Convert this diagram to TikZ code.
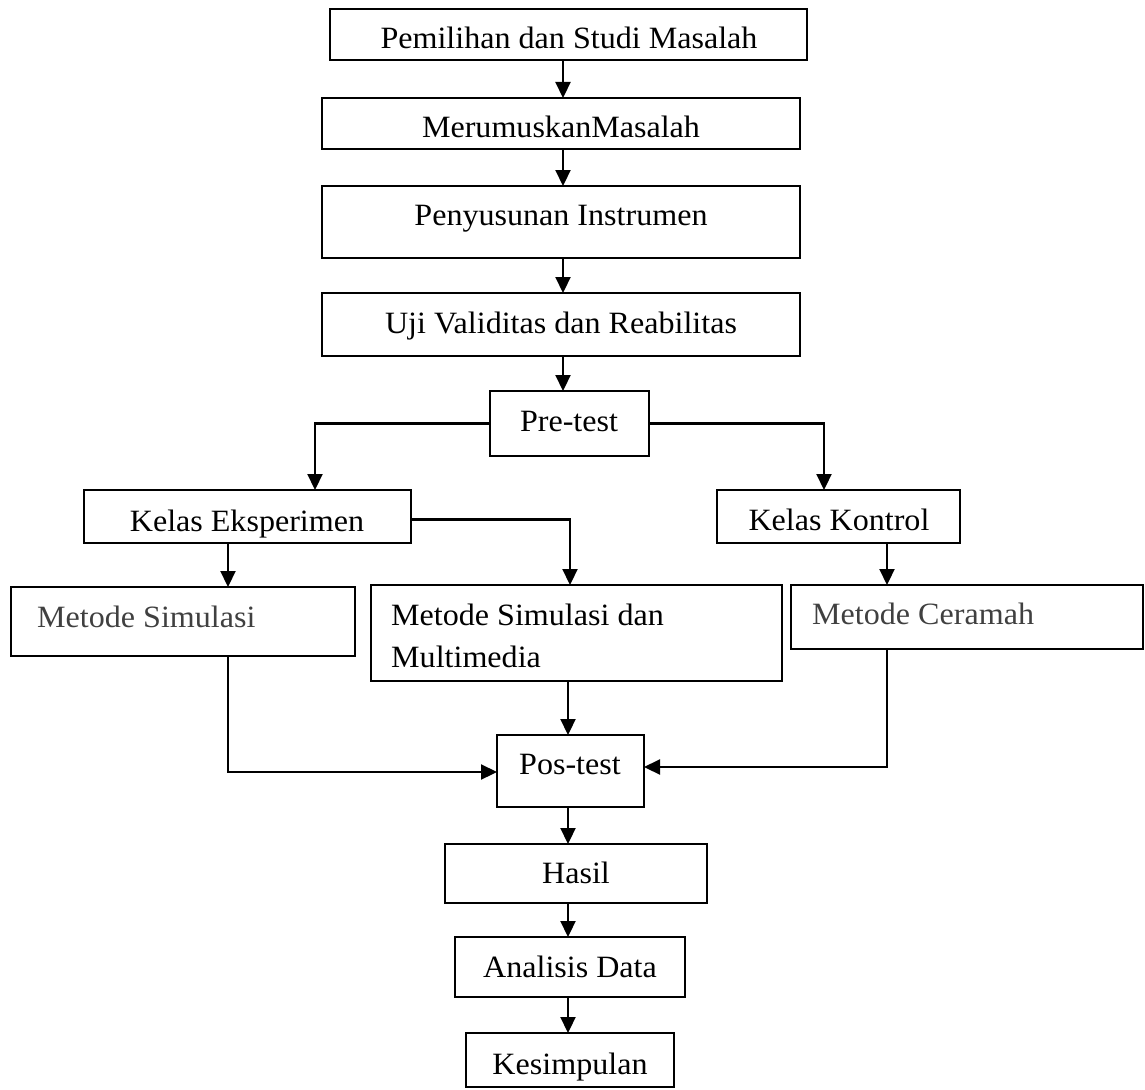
\documentclass[tikz,border=0pt]{standalone}
\usepackage{fontspec}
\setmainfont[FakeStretch=1.035]{Liberation Serif}
\usetikzlibrary{arrows.meta,calc}
\definecolor{txtgray}{HTML}{404040}
\newcommand\mkbox[5]{%
  \pgfmathsetmacro\bw{#4-#2}\pgfmathsetmacro\bh{#5-#3}%
  \node[boxst,minimum width=\bw pt,minimum height=\bh pt] (#1) at ({(#2+#4)/2},{(#3+#5)/2}) {};}
\begin{document}
\begin{tikzpicture}[x=1pt,y=-1pt,
  boxst/.style={draw,line width=1.8pt,inner sep=0pt,outer sep=0pt},
  txt/.style={anchor=base,inner sep=0pt,font=\fontsize{31}{42}\selectfont},
  ltxt/.style={anchor=base west,inner sep=0pt,font=\fontsize{31}{42}\selectfont},
  arr/.style={line width=2.2pt,-{Triangle[length=16pt,width=15pt]}}]
\useasboundingbox (0,0) rectangle (1145,1089);
% boxes
\mkbox{b1}{330}{9}{807}{60}
\mkbox{b2}{322}{98}{800}{149}
\mkbox{b3}{322}{186}{800}{258}
\mkbox{b4}{322}{293}{800}{356}
\mkbox{b5}{490}{391}{649}{456}
\mkbox{b6}{84}{490}{411}{543}
\mkbox{b7}{717}{490}{960}{543}
\mkbox{b8}{11}{587}{355}{656}
\mkbox{b9}{371}{585}{782}{681}
\mkbox{b10}{791}{585}{1143}{649}
\mkbox{b11}{497}{735}{644}{807}
\mkbox{b12}{445}{844}{707}{903}
\mkbox{b13}{455}{937}{685}{997}
\mkbox{b14}{466}{1033}{674}{1087}
% texts
\node[txt] (t1) at (569,49) {Pemilihan dan Studi Masalah};
\node[txt] (t2) at (561,137) {MerumuskanMasalah};
\node[txt] (t3) at (561,225) {Penyusunan Instrumen};
\node[txt] (t4) at (561,333) {Uji Validitas dan Reabilitas};
\node[txt] (t5) at (569,431) {Pre-test};
\node[txt] (t6) at (247,531) {Kelas Eksperimen};
\node[txt] (t7) at (839,530) {Kelas Kontrol};
\node[ltxt,text=txtgray] (t8) at (37,627) {Metode Simulasi};
\node[ltxt] (t9a) at (391,625) {Metode Simulasi dan};
\node[ltxt] (t9b) at (391,667) {Multimedia};
\node[ltxt,text=txtgray] (t10) at (812,624) {Metode Ceramah};
\node[txt] (t11) at (570,774) {Pos-test};
\node[txt] (t12) at (576,883) {Hasil};
\node[txt] (t13) at (570,977) {Analisis Data};
\node[txt] (t14) at (570,1074) {Kesimpulan};
% guide coordinates
\coordinate (sp) at (563,0);
\coordinate (spb) at (568,0);
\coordinate (xl) at (315,0);
\coordinate (xr) at (824,0);
\coordinate (xs) at (228,0);
\coordinate (xm) at (570,0);
\coordinate (xc) at (887,0);
\coordinate (ym) at (0,767);
% connectors
\draw[arr] (b1.south -| sp) -- (b2.north -| sp);
\draw[arr] (b2.south -| sp) -- (b3.north -| sp);
\draw[arr] (b3.south -| sp) -- (b4.north -| sp);
\draw[arr] (b4.south -| sp) -- (b5.north -| sp);
\draw[arr] (b5.west) -| (b6.north -| xl);
\draw[arr] (b5.east) -| (b7.north -| xr);
\draw[arr] (b6.south -| xs) -- (b8.north -| xs);
\draw[arr] ($(b6.east)+(0,3)$) -| (b9.north -| xm);
\draw[arr] (b7.south -| xc) -- (b10.north -| xc);
\draw[arr] (b8.south -| xs) |- ($(b11.west)+(0,1)$);
\draw[arr] (b9.south -| spb) -- (b11.north -| spb);
\draw[arr] (b10.south -| xc) |- (b11.east |- ym);
\draw[arr] (b11.south -| spb) -- (b12.north -| spb);
\draw[arr] (b12.south -| spb) -- (b13.north -| spb);
\draw[arr] (b13.south -| spb) -- (b14.north -| spb);
\end{tikzpicture}
\end{document}
